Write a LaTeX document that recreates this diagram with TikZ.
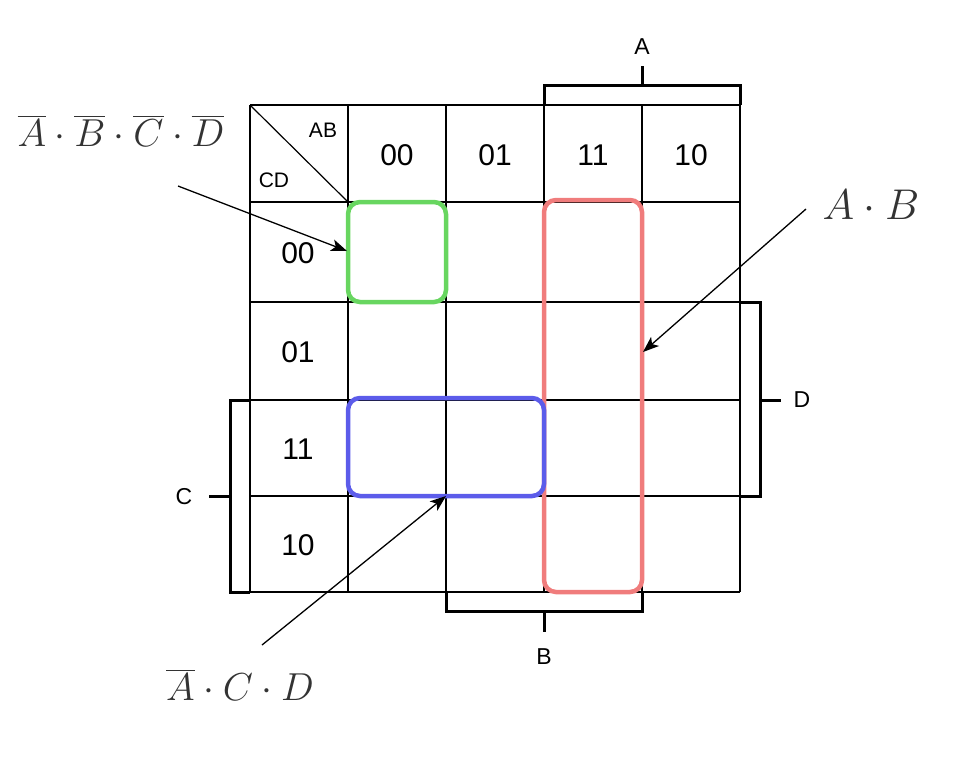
\RequirePackage{fix-cm}
\documentclass[tikz,border=0pt]{standalone}
\usepackage{fontspec}
\setsansfont{Liberation Sans}
\usetikzlibrary{arrows.meta}
\usepackage{xcolor}
\usepackage{amsmath}

\definecolor{grpgreen}{RGB}{104,214,96}
\definecolor{grpred}{RGB}{240,124,124}
\definecolor{grpblue}{RGB}{92,92,234}
\definecolor{exprgray}{RGB}{51,51,51}

\begin{document}
\begin{tikzpicture}[
  x=1pt, y=-1pt,
  grid/.style={line width=1.2pt},
  cell/.style={font=\sffamily\fontsize{30}{35}\selectfont},
  corner/.style={font=\sffamily\fontsize{21}{25}\selectfont},
  var/.style={font=\sffamily\fontsize{23}{27}\selectfont},
  expr/.style={text=exprgray, font=\fontsize{39}{46}\selectfont},
  brk/.style={line width=3pt},
  grp/.style={line width=4.5pt, rounded corners=12pt},
  arr/.style={-{Stealth[length=16pt, width=12pt, inset=4pt]}, line width=1.3pt}
]
\useasboundingbox (0,0) rectangle (977,769);

% map grid
\foreach \x in {250,348,446,544,642,740}
  \draw[grid] (\x,105) -- (\x,592);
\foreach \y in {105,202,302,400,496,592}
  \draw[grid] (250,\y) -- (740,\y);
\draw[grid] (250,105) -- (348,202);

\node[corner] (ab) at (323,130) {AB};
\node[corner] (cd) at (274,180) {CD};

\foreach \c/\x in {00/397, 01/495, 11/593, 10/691}
  \node[cell] (col\c) at (\x,155) {\c};
\foreach \r/\y in {00/253, 01/352, 11/449, 10/545}
  \node[cell] (row\r) at (298,\y) {\r};

% brackets
\draw[brk] (544,105) -- (544,85) -- (740,85) -- (740,105);
\draw[brk] (642,85) -- (642,66);
\node[var] (varA) at (642,47) {A};

\draw[brk] (446,592) -- (446,611) -- (642,611) -- (642,592);
\draw[brk] (544,611) -- (544,632);
\node[var] (varB) at (544,657) {B};

\draw[brk] (250,400) -- (230,400) -- (230,592) -- (250,592);
\draw[brk] (230,496) -- (209,496);
\node[var] (varC) at (184,497) {C};

\draw[brk] (740,302) -- (760,302) -- (760,496) -- (740,496);
\draw[brk] (760,400) -- (781,400);
\node[var] (varD) at (802,400) {D};

% groups
\draw[grp, grpgreen] (348,202) rectangle (446,302);
\draw[grp, grpred] (544,200) rectangle (642,592);
\draw[grp, grpblue] (348,398) rectangle (544,496);

% terms
\node[expr] (tA) at (121,131) {$\overline{A}\cdot\overline{B}\cdot\overline{C}\cdot\overline{D}$};
\node[expr, font=\fontsize{43}{50}\selectfont] (tB) at (871,205) {$A\cdot B$};
\node[expr] (tC) at (240,685) {$\overline{A}\cdot C\cdot D$};

\coordinate (tA-tail) at (178,186);
\coordinate (tA-head) at (347,251);
\coordinate (tB-tail) at (806,209);
\coordinate (tB-head) at (643,352);
\coordinate (tC-tail) at (262,645);
\coordinate (tC-head) at (446,496);

\draw[arr] (tA-tail) -- (tA-head);
\draw[arr] (tB-tail) -- (tB-head);
\draw[arr] (tC-tail) -- (tC-head);

\end{tikzpicture}
\end{document}
